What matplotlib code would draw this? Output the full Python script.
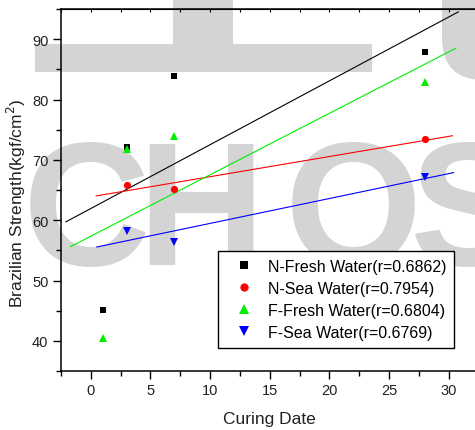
"""
Curing date vs Brazilian strength scatter with linear fits
"""
import numpy as np
import matplotlib
matplotlib.use('Agg')
import matplotlib.pyplot as plt
from matplotlib.patches import Rectangle, FancyBboxPatch
from matplotlib.ticker import MultipleLocator

plt.rcParams['font.family'] = ['Liberation Sans', 'DejaVu Sans']

# data
n_fresh_days = [1, 3, 7, 28]
n_fresh_strength = [45.1, 72.2, 83.9, 87.8]
n_sea_days = [3, 7, 28]
n_sea_strength = [65.8, 65.1, 73.4]
f_fresh_days = [1, 3, 7, 28]
f_fresh_strength = [40.4, 71.8, 74.0, 82.9]
f_sea_days = [3, 7, 28]
f_sea_strength = [58.2, 56.3, 67.2]

# x extent of each fitted line
n_fresh_fit_range = [-2.1, 30.8]
n_sea_fit_range = [0.45, 30.3]
f_fresh_fit_range = [-1.7, 30.6]
f_sea_fit_range = [0.5, 30.4]

labels = ['N-Fresh Water(r=0.6862)', 'N-Sea Water(r=0.7954)',
          'F-Fresh Water(r=0.6804)', 'F-Sea Water(r=0.6769)']

series = [
    (n_fresh_days, n_fresh_strength, n_fresh_fit_range, 'black', 's', 4.5),
    (n_sea_days, n_sea_strength, n_sea_fit_range, '#ff0000', 'o', 5.2),
    (f_fresh_days, f_fresh_strength, f_fresh_fit_range, '#00ee00', '^', 6),
    (f_sea_days, f_sea_strength, f_sea_fit_range, '#0000ff', 'v', 6),
]

W, H = 475, 431
fig = plt.figure(figsize=(W / 100, H / 100), dpi=100)

# 배경 워터마크 (회색) - 픽셀 좌표용 보조 축
wm = '#d4d4d4'
bg = fig.add_axes([0, 0, 1, 1])
bg.set_xlim(0, W)
bg.set_ylim(H, 0)
bg.axis('off')
bg.set_zorder(0)
bg.add_patch(Rectangle((173, -5), 60, 51, facecolor=wm, edgecolor='none'))
bg.add_patch(Rectangle((35, 45), 337, 28, facecolor=wm, edgecolor='none'))
bg.add_patch(FancyBboxPatch((442, -60), 100, 141,
                            boxstyle='round,pad=0,rounding_size=42',
                            facecolor=wm, edgecolor='none', clip_on=False))
for ch, xc in zip('CHOS', [86, 201, 353, 469]):
    bg.text(xc, 265, ch, fontsize=127, fontweight='bold', color=wm,
            ha='center', va='baseline', clip_on=False)

ax = fig.add_axes([61 / W, 1 - 372 / H, 417.6 / W, 362 / H])
ax.set_zorder(1)
ax.patch.set_alpha(0)

handles = []
for days, strength, rng, color, marker, ms in series:
    slope, intercept = np.polyfit(days, strength, 1)
    xs = np.array(rng)
    ax.plot(xs, slope * xs + intercept, color=color, lw=0.8, zorder=2)
    h, = ax.plot(days, strength, linestyle='none', marker=marker, ms=ms,
                 color=color, markeredgewidth=0, zorder=3)
    handles.append(h)

ax.set_xlim(-2.5, 32.5)
ax.set_ylim(35, 95)
ax.xaxis.set_major_locator(MultipleLocator(5))
ax.xaxis.set_minor_locator(MultipleLocator(2.5))
ax.yaxis.set_major_locator(MultipleLocator(10))
ax.yaxis.set_minor_locator(MultipleLocator(5))
ax.set_yticks([40, 50, 60, 70, 80, 90])

ax.tick_params(which='major', direction='out', length=6, width=1, labelsize=10.5,
               labelcolor='#222222', pad=3)
ax.tick_params(which='minor', direction='out', length=3.5, width=1)
for sp in ax.spines.values():
    sp.set_linewidth(1.1)

# 위쪽 축: 안쪽으로 아주 짧은 눈금
top = ax.secondary_xaxis('top')
top.xaxis.set_major_locator(MultipleLocator(2.5))
top.tick_params(direction='in', length=2, width=0.8, labeltop=False)

ax.set_xlabel('Curing Date', fontsize=12.5, color='#222222', labelpad=10)
ax.set_ylabel('Brazilian Strength(kgf/cm$^2$)', fontsize=12.5, color='#222222')
ax.yaxis.set_label_coords(-0.08, (372 - 203) / 362)

leg = ax.legend(handles, labels, loc='upper left',
                bbox_to_anchor=(157 / 417.6, 1 - 242 / 362),
                fontsize=11.5, frameon=True, fancybox=False, edgecolor='black',
                handletextpad=0.375, borderpad=0.5, labelspacing=0.43, markerscale=1.15,
                handlelength=2.25, borderaxespad=0)
leg.get_frame().set_linewidth(1)
leg.get_frame().set_alpha(1)

plt.savefig('out.png', dpi=100)
